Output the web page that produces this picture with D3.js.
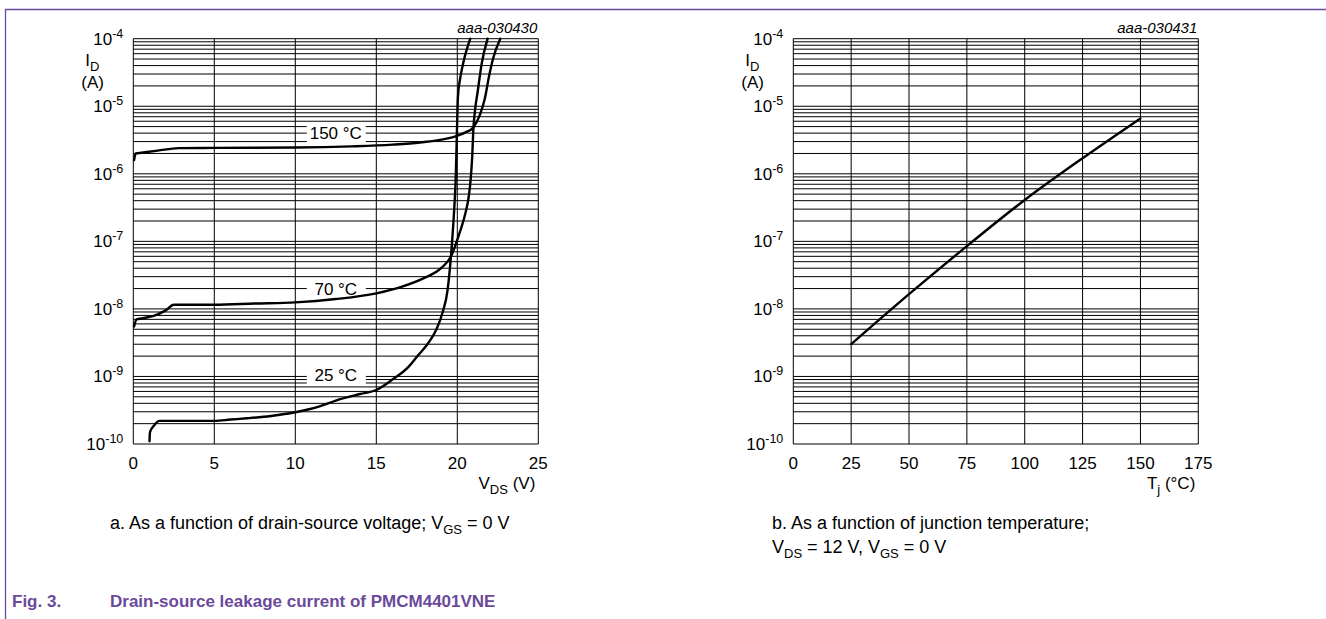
<!DOCTYPE html>
<html>
<head>
<meta charset="utf-8">
<script src="https://cdn.jsdelivr.net/npm/d3@7"></script>
<style>
  body { margin: 0; background: #fff; }
  svg { display: block; font-family: "Liberation Sans", Arial, sans-serif; }
</style>
</head>
<body>
<script>
// chart a: I_D vs V_DS
var vds25 = [1.0, 1.03, 1.3, 1.6, 2.5, 4, 5, 6, 7, 8.5, 10, 11.5, 12.5, 14, 15, 16, 17, 17.5, 18.2, 18.7, 19.1, 19.4, 19.6, 19.75, 19.85, 19.9, 19.98, 20.04, 20.18, 20.37, 20.8];
var id25 = [1.1e-10, 1.5e-10, 1.9e-10, 2.2e-10, 2.2e-10, 2.2e-10, 2.2e-10, 2.3e-10, 2.4e-10, 2.6e-10, 2.95e-10, 3.6e-10, 4.4e-10, 5.5e-10, 6.3e-10, 9e-10, 1.4e-9, 1.95e-9, 3.1e-9, 4.9e-9, 9e-9, 1.9e-8, 5.7e-8, 1.75e-7, 4.5e-7, 8.1e-7, 4.5e-6, 1.38e-5, 2.6e-5, 4.4e-5, 1e-4];
var vds70 = [0.05, 0.2, 0.6, 1.0, 1.5, 2.0, 2.5, 3.5, 5, 7.5, 10, 12.5, 15, 16.5, 18, 19, 19.6, 20.17, 20.5, 20.7, 20.82, 20.92, 20.99, 21.1, 21.25, 21.5, 21.87];
var id70 = [5.5e-9, 7e-9, 7.3e-9, 7.6e-9, 8.3e-9, 9.5e-9, 1.15e-8, 1.15e-8, 1.15e-8, 1.2e-8, 1.25e-8, 1.4e-8, 1.7e-8, 2.1e-8, 2.9e-8, 4e-8, 5.9e-8, 1.4e-7, 2.6e-7, 4.5e-7, 8e-7, 1.8e-6, 4.5e-6, 9e-6, 1.6e-5, 4.2e-5, 1e-4];
var vds150 = [0.05, 0.15, 0.5, 1.5, 2.8, 5, 10, 13.5, 16, 17.7, 19, 19.75, 20.5, 21.0, 21.4, 21.7, 21.95, 22.2, 22.65];
var id150 = [1.6e-6, 2.0e-6, 2.05e-6, 2.2e-6, 2.4e-6, 2.42e-6, 2.45e-6, 2.55e-6, 2.7e-6, 2.9e-6, 3.2e-6, 3.5e-6, 4.1e-6, 4.9e-6, 7.5e-6, 1.3e-5, 2.7e-5, 5e-5, 1e-4];
var tempLabels = ["25 °C", "70 °C", "150 °C"];
var labelI = [1.05e-9, 2.0e-8, 4.0e-6];
var vdsTicks = [0, 5, 10, 15, 20, 25];

// chart b: I_D vs Tj
var tj = [25, 50, 75, 100, 125, 150];
var idTj = [3e-9, 1.65e-8, 8.5e-8, 4.1e-7, 1.7e-6, 6.6e-6];
var tjTicks = [0, 25, 50, 75, 100, 125, 150, 175];

var decades = [-4, -5, -6, -7, -8, -9, -10];

var W = 1326, H = 619;
var purple = "#6b4a9b";
var svg = d3.select("body").append("svg").attr("width", W).attr("height", H);

// frame
svg.append("line").attr("x1", 5).attr("x2", W).attr("y1", 9.5).attr("y2", 9.5)
  .attr("stroke", purple).attr("stroke-width", 1.3);
svg.append("line").attr("x1", 5.5).attr("x2", 5.5).attr("y1", 9).attr("y2", H)
  .attr("stroke", purple).attr("stroke-width", 1.3);

var plotTop = 38.7, plotBottom = 444;
var y = d3.scaleLog().domain([1e-10, 1e-4]).range([plotBottom, plotTop]);

function panel(left, xDomain, xTicks, code, xName, xSub, xUnit) {
  var x = d3.scaleLinear().domain(xDomain).range([left, left + 405]);
  var g = svg.append("g");

  // horizontal log grid
  var minor = [];
  for (var e = -10; e < -4; e++) {
    for (var m = 1; m < 10; m++) minor.push(m * Math.pow(10, e));
  }
  minor.push(1e-4);
  g.selectAll(".hg").data(minor).enter().append("line")
    .attr("x1", left).attr("x2", left + 405)
    .attr("y1", function(d) { return y(d); })
    .attr("y2", function(d) { return y(d); })
    .attr("stroke", "#000").attr("stroke-width", 1);

  g.selectAll(".vg").data(xTicks).enter().append("line")
    .attr("x1", function(d) { return x(d); })
    .attr("x2", function(d) { return x(d); })
    .attr("y1", plotTop).attr("y2", plotBottom)
    .attr("stroke", "#000").attr("stroke-width", 1);

  // y tick labels
  var yl = g.selectAll(".yl").data(decades).enter().append("text")
    .attr("x", left - 10).attr("y", function(d) { return y(Math.pow(10, d)) + 6; })
    .attr("text-anchor", "end").attr("font-size", 17);
  yl.append("tspan").text("10");
  yl.append("tspan").attr("dy", -7).attr("font-size", 12.5).text(function(d) { return d; });

  // x tick labels
  g.selectAll(".xl").data(xTicks).enter().append("text")
    .attr("x", function(d) { return x(d); }).attr("y", plotBottom + 25)
    .attr("text-anchor", "middle").attr("font-size", 17)
    .text(function(d) { return d; });

  // axis names
  var yn = g.append("text").attr("x", left - 48).attr("y", 66).attr("font-size", 17);
  yn.append("tspan").text("I");
  yn.append("tspan").attr("dy", 5).attr("font-size", 13).text("D");
  g.append("text").attr("x", left - 52).attr("y", 88).attr("font-size", 17).text("(A)");

  var xn = g.append("text").attr("x", left + 402).attr("y", plotBottom + 45)
    .attr("text-anchor", "end").attr("font-size", 17);
  xn.append("tspan").text(xName);
  xn.append("tspan").attr("dy", 5).attr("font-size", 13).text(xSub);
  xn.append("tspan").attr("dy", -5).text(" " + xUnit);

  g.append("text").attr("x", left + 404).attr("y", 33).attr("text-anchor", "end")
    .attr("font-size", 15).attr("font-style", "italic").text(code);

  return { x: x, g: g };
}

function curve(p, xs, ys) {
  var pts = xs.map(function(v, i) { return [v, ys[i]]; });
  var line = d3.line()
    .x(function(d) { return p.x(d[0]); })
    .y(function(d) { return y(d[1]); })
    .curve(d3.curveMonotoneX);
  p.g.append("path").attr("d", line(pts))
    .attr("fill", "none").attr("stroke", "#000").attr("stroke-width", 2.4)
    .attr("stroke-linejoin", "round").attr("stroke-linecap", "round");
}

var pa = panel(133.3, [0, 25], vdsTicks, "aaa-030430", "V", "DS", "(V)");
var pb = panel(793.3, [0, 175], tjTicks, "aaa-030431", "T", "j", "(°C)");

// curve labels with white boxes
tempLabels.forEach(function(t, i) {
  var cx = pa.x(12.5), cy = y(labelI[i]);
  pa.g.append("rect").attr("x", cx - 29).attr("y", cy - 9).attr("width", 59).attr("height", 19)
    .attr("fill", "#fff");
  pa.g.append("text").attr("x", cx).attr("y", cy + 6).attr("text-anchor", "middle")
    .attr("font-size", 17).text(t);
});

curve(pa, vds25, id25);
curve(pa, vds70, id70);
curve(pa, vds150, id150);
curve(pb, tj, idTj);

// captions
var ca = svg.append("text").attr("x", 110).attr("y", 529).attr("font-size", 18);
ca.append("tspan").text("a. As a function of drain-source voltage; V");
ca.append("tspan").attr("dy", 5).attr("font-size", 13).text("GS");
ca.append("tspan").attr("dy", -5).text(" = 0 V");

svg.append("text").attr("x", 772).attr("y", 529).attr("font-size", 18)
  .text("b. As a function of junction temperature;");
var cb = svg.append("text").attr("x", 772).attr("y", 553).attr("font-size", 18);
cb.append("tspan").text("V");
cb.append("tspan").attr("dy", 5).attr("font-size", 13).text("DS");
cb.append("tspan").attr("dy", -5).text(" = 12 V, V");
cb.append("tspan").attr("dy", 5).attr("font-size", 13).text("GS");
cb.append("tspan").attr("dy", -5).text(" = 0 V");

svg.append("text").attr("x", 12).attr("y", 607).attr("font-size", 17)
  .attr("font-weight", "bold").attr("fill", purple).text("Fig. 3.");
svg.append("text").attr("x", 110).attr("y", 607).attr("font-size", 17)
  .attr("font-weight", "bold").attr("fill", purple)
  .text("Drain-source leakage current of PMCM4401VNE");
</script>
</body>
</html>
